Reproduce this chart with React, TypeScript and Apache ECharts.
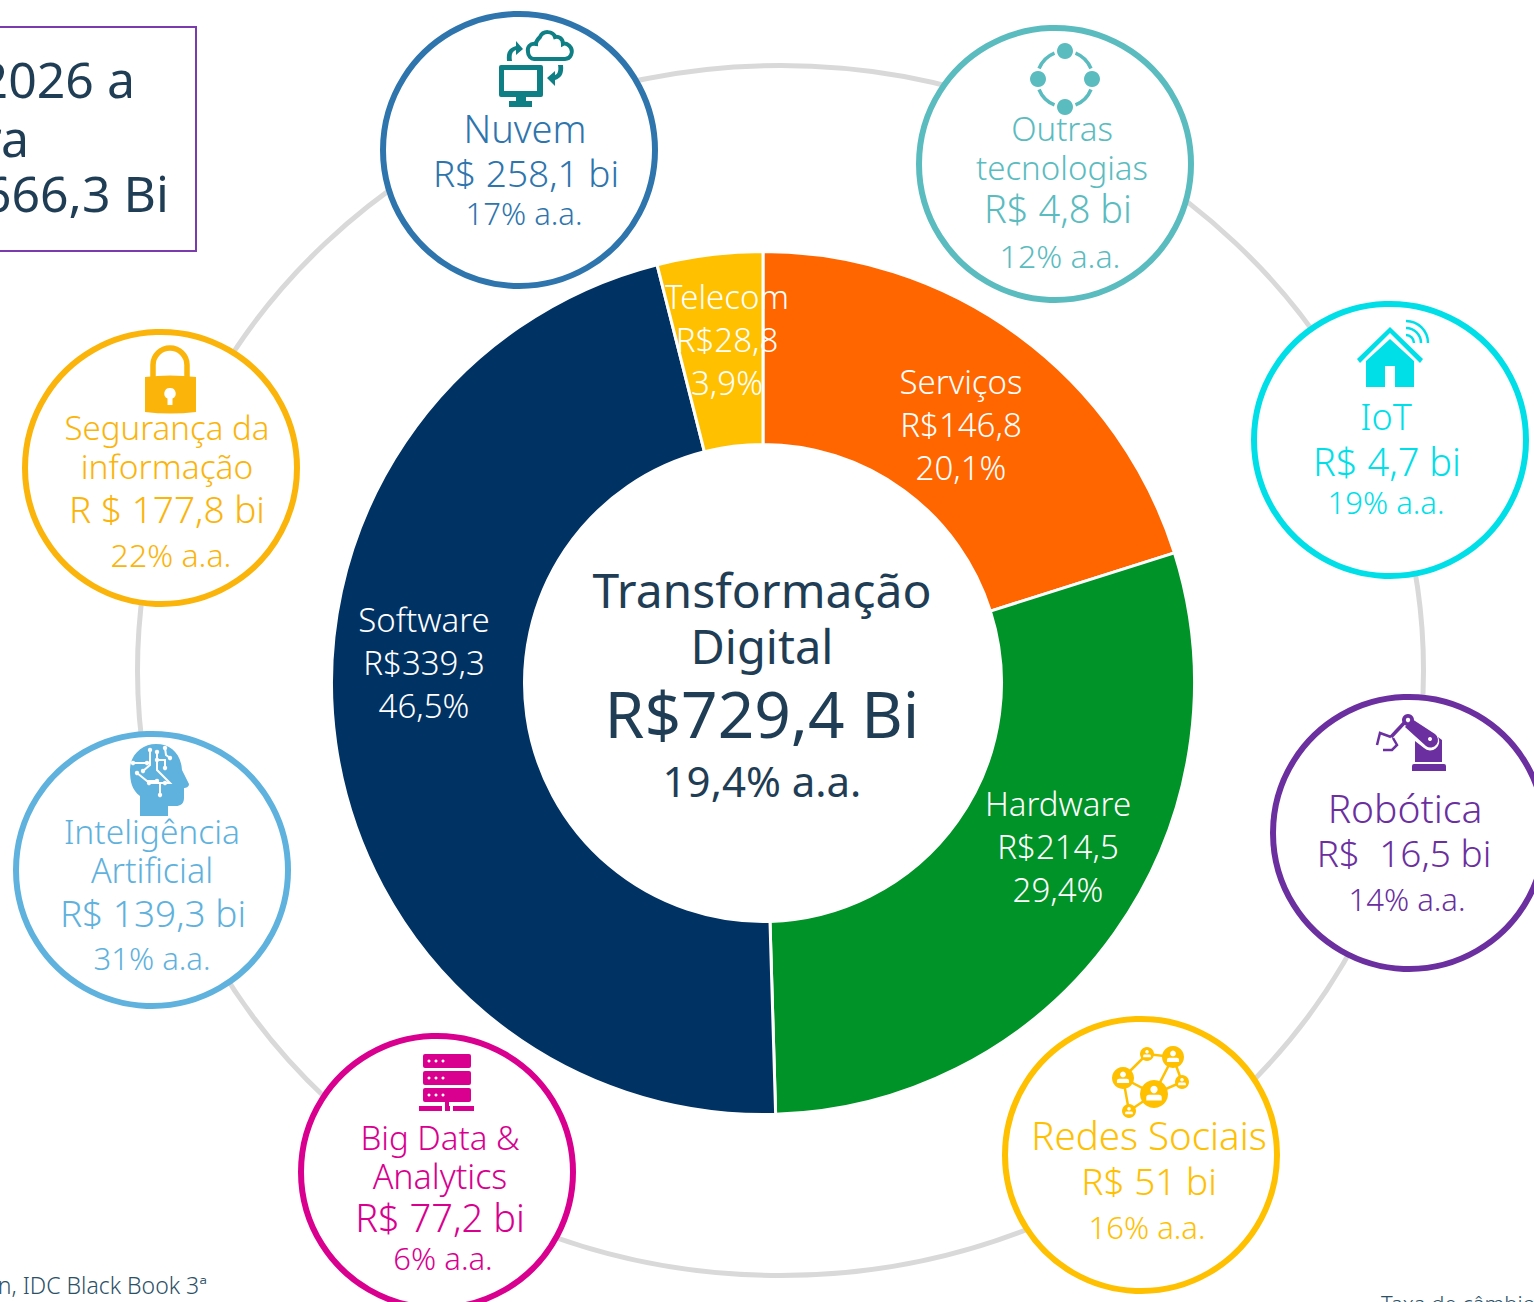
import React, { useEffect, useRef } from "react";
import * as echarts from "echarts";

// ---- Donut data -----
const segmentNames = ["Serviços", "Hardware", "Software", "Telecom"];
const segmentValues = [146.8, 214.5, 339.3, 28.8];
const segmentShares = ["20,1%", "29,4%", "46,5%", "3,9%"];
const segmentColors = ["#ff6600", "#009327", "#003264", "#ffc000"];
const segmentLabelPos = [[961, 424], [1058, 846], [424, 662], [727, 339]];

// ---- Centre text ----
const centerLines = [
  { t: "Transformação", y: 589, s: 48 },
  { t: "Digital", y: 646, s: 47 },
  { t: "R$729,4 Bi", y: 713, s: 64 },
  { t: "19,4% a.a.", y: 780, s: 42 },
];

// ---- Satellite circles ----
const bubbles = [
  { c: [519, 150], col: "#2e75ad", lines: [["Nuvem", 525, 128, 38], ["R$ 258,1 bi", 526, 172, 37], ["17% a.a.", 524, 213, 31]] },
  { c: [1055, 164], col: "#5bbcc0", lines: [["Outras", 1062, 128, 33], ["tecnologias", 1062, 167, 33], ["R$ 4,8 bi", 1058, 208, 38], ["12% a.a.", 1060, 255, 32]] },
  { c: [1390, 440], col: "#00dfe8", lines: [["IoT", 1386, 416, 36], ["R$ 4,7 bi", 1387, 461, 38], ["19% a.a.", 1386, 502, 31]] },
  { c: [1409, 833], col: "#6b2fa0", lines: [["Robótica", 1405, 807, 39], ["R$  16,5 bi", 1404, 852, 37], ["14% a.a.", 1407, 899, 31]] },
  { c: [1141, 1155], col: "#ffc000", lines: [["Redes Sociais", 1149, 1135, 38.5], ["R$ 51 bi", 1149, 1180, 37], ["16% a.a.", 1147, 1227, 31]] },
  { c: [437, 1172], col: "#d90090", lines: [["Big Data &", 440, 1137, 33], ["Analytics", 440, 1176, 34], ["R$ 77,2 bi", 440, 1217, 38], ["6% a.a.", 443, 1258, 31]] },
  { c: [152, 870], col: "#5fb2dd", lines: [["Inteligência", 152, 831, 33.5], ["Artificial", 152, 870, 34], ["R$ 139,3 bi", 153, 912, 37], ["31% a.a.", 152, 958, 31]] },
  { c: [161, 468], col: "#fbb40a", lines: [["Segurança da", 167, 427, 33], ["informação", 167, 466, 33.5], ["R $ 177,8 bi", 167, 508, 37], ["22% a.a.", 171, 554, 32]] },
];

const boxLines: [string, number, number][] = [["2026 a", 135, 79], ["ra", 29, 138], ["666,3 Bi", 169, 193]];

const FONT = "'Noto Sans', sans-serif";
const LIGHT = 300;
const REGULAR = 400;
const INK = "#1f3d54";

// ---- Icons (SVG paths) ----
const icons: Record<string, string> = {
  monitor:
    "M501 65 H541 Q543 65 543 67 V95 Q543 97 541 97 H526 V101 H532 V107 H509 V101 H516 V97 H501 Q499 97 499 95 V67 Q499 65 501 65 Z M504 70 V91 H537 V70 Z",
  cloud:
    "M534 59 H565 C571 59 573 52 571 48 C569 44 565 43 563 44 C563 38 558 36 555 37 C553 31 543 30 540 37 C537 40 536 42 536 44 C530 43 527 47 528 52 C528 56 531 59 534 59 Z",
  arrowA: "M507 61 C506 52 509 48 516 46 L516 41 L523 49 L516 55 L516 50 C512 51 511 55 512 61 Z",
  arrowB: "M558 65 H563 C564 74 561 78 555 80 L555 86 L547 78 L555 71 L555 75 C558 74 559 70 558 65 Z",
  house:
    "M1390 339 L1414 361 V387 H1395 V366 H1385 V387 H1366 V361 Z M1390 327 L1423 359 L1420 363 L1390 333 L1360 363 L1357 359 Z",
  lock:
    "M145 377 Q170 374 196 377 V412 Q170 415 145 412 Z M170 388 A5.5 5.5 0 0 0 167.5 398.5 V405 H172.5 V398.5 A5.5 5.5 0 0 0 170 388 Z",
  shackle: "M153 378 V365 A17 17 0 0 1 187 365 V378",
  head:
    "M140 816 V796 C132 790 130 782 130 770 C130 754 143 744 156 744 C171 744 181 754 182 770 L189 784 C189 787 186 788 184 788 V798 C184 804 180 806 176 806 H168 V816 Z",
  robotBody:
    "M1415 741 L1424 748 A9 9 0 0 0 1438 737 L1442 740 V762 H1415 Z M1412 766 Q1412 764 1414 764 H1444 Q1446 764 1446 766 V771 H1412 Z",
  robotArm: "M1412 719 L1435 734 A7 7 0 0 1 1426 746 L1405 727 Z",
};
Object.entries(icons).forEach(([k, d]) => {
  echarts.graphic.registerShape("ic_" + k, echarts.graphic.extendPath(d, {}));
});

const path = (k: string, style: any) => ({ type: "ic_" + k, x: 0, y: 0, style });
const circle = (cx: number, cy: number, r: number, fill: string) => ({ type: "circle", shape: { cx, cy, r }, style: { fill } });
const pline = (points: number[][], stroke: string, lineWidth: number) => ({
  type: "polyline",
  shape: { points },
  style: { stroke, lineWidth, fill: "none" },
});
const arc = (cx: number, cy: number, r: number, a0: number, a1: number, stroke: string, lineWidth: number) => ({
  type: "arc",
  shape: { cx, cy, r, startAngle: (a0 * Math.PI) / 180, endAngle: (a1 * Math.PI) / 180 },
  style: { stroke, lineWidth, fill: "none" },
});
const person = (cx: number, cy: number, r: number, col: string) => [
  circle(cx, cy, r, col),
  circle(cx, cy - r * 0.32, r * 0.26, "#fff"),
  { type: "rect", shape: { x: cx - r * 0.55, y: cy + r * 0.06, width: r * 1.1, height: r * 0.4, r: [r * 0.2, r * 0.2, 0, 0] }, style: { fill: "#fff" } },
];

function iconElements(): any[] {
  const teal = "#0e7f85";
  const sea = "#5bbcc0";
  const cyan = "#00dfe8";
  const pur = "#6b2fa0";
  const yel = "#ffc000";
  const mag = "#d90090";
  const sky = "#5fb2dd";
  const amb = "#fbb40a";
  const out: any[] = [];
  // cloud
  out.push(path("monitor", { fill: teal }), path("cloud", { fill: "none", stroke: teal, lineWidth: 4 }), path("arrowA", { fill: teal }), path("arrowB", { fill: teal }));
  // other tech
  [[1065, 51], [1038, 79], [1092, 79], [1065, 107]].forEach(([x, y]) => out.push(circle(x, y, 8, sea)));
  [[22, 68], [112, 158], [202, 248], [292, 338]].forEach(([a, b]) => out.push(arc(1065, 79, 28, a, b, sea, 3.5)));
  // iot
  out.push(path("house", { fill: cyan }));
  [8, 15, 22].forEach((r) => out.push(arc(1406, 343, r, 270, 360, cyan, 2.5)));
  // robot
  out.push(path("robotBody", { fill: pur }), path("robotArm", { fill: pur }), circle(1408, 720, 6, pur), circle(1408, 720, 2.2, "#fff"), circle(1430, 739, 2, "#fff"));
  out.push(pline([[1405, 722], [1391, 737]], pur, 3.5));
  out.push(pline([[1391, 737], [1380, 733], [1377, 745]], pur, 2.5));
  out.push(pline([[1393, 738], [1397, 745], [1392, 750], [1383, 750]], pur, 2.5));
  // social
  out.push(pline([[1123, 1078], [1147, 1054], [1173, 1057], [1154, 1094], [1123, 1078], [1129, 1111], [1154, 1094], [1182, 1082], [1173, 1057]], yel, 2.5));
  out.push(...person(1154, 1094, 14, yel), ...person(1123, 1078, 11, yel), ...person(1173, 1057, 11, yel), ...person(1147, 1054, 7, yel), ...person(1182, 1082, 7, yel), ...person(1129, 1111, 7, yel));
  // big data
  [1054, 1071, 1088].forEach((y) => {
    out.push({ type: "rect", shape: { x: 423, y, width: 48, height: 14, r: 2 }, style: { fill: mag } });
    [429, 436, 443].forEach((x) => out.push(circle(x, y + 7, 1.5, "#fff")));
  });
  out.push({ type: "rect", shape: { x: 445, y: 1102, width: 4, height: 6 }, style: { fill: mag } });
  [[419, 23], [445, 5], [453, 21]].forEach(([x, width]) => out.push({ type: "rect", shape: { x, y: 1106, width, height: 5 }, style: { fill: mag } }));
  // AI head
  out.push(path("head", { fill: sky }));
  const traces = [
    [[150, 750], [150, 765], [143, 771]],
    [[133, 763], [147, 763]],
    [[157, 752], [157, 770], [170, 783], [149, 783]],
    [[157, 760], [165, 760], [165, 768]],
    [[165, 783], [160, 783], [160, 795]],
    [[137, 773], [147, 781], [157, 781]],
    [[165, 748], [166, 755], [170, 758]],
  ];
  traces.forEach((p) => {
    out.push(pline(p, "#fff", 2));
    const e = p[p.length - 1];
    out.push(circle(p[0][0], p[0][1], 2.2, "#fff"), circle(e[0], e[1], 2.2, "#fff"));
  });
  // lock
  out.push(path("lock", { fill: amb }), path("shackle", { fill: "none", stroke: amb, lineWidth: 5.5 }));
  return out;
}

function buildGraphic(): any[] {
  const els: any[] = [];
  // connecting ring
  els.push({ type: "ellipse", shape: { cx: 780.5, cy: 670.5, rx: 643, ry: 605 }, style: { fill: "none", stroke: "#d9d9d9", lineWidth: 5 } });
  // bubbles
  bubbles.forEach((b) => {
    els.push({ type: "circle", shape: { cx: b.c[0], cy: b.c[1], r: 136 }, style: { fill: "#fff", stroke: b.col, lineWidth: 6 } });
    b.lines.forEach((l: any) =>
      els.push({
        type: "text",
        style: { text: l[0], x: l[1], y: l[2], fill: b.col, fontSize: l[3], fontFamily: FONT, fontWeight: LIGHT, align: "center", verticalAlign: "middle" },
      })
    );
  });
  els.push(...iconElements());
  // centre text
  centerLines.forEach((l) =>
    els.push({ type: "text", style: { text: l.t, x: 762, y: l.y, fill: INK, fontSize: l.s, fontFamily: FONT, fontWeight: REGULAR, align: "center", verticalAlign: "middle" } })
  );
  // top-left box
  els.push({ type: "rect", shape: { x: -6, y: 27, width: 202, height: 224 }, style: { fill: "#fff", stroke: "#7a3cac", lineWidth: 2 } });
  boxLines.forEach(([t, x, y]) =>
    els.push({ type: "text", style: { text: t, x, y, fill: INK, fontSize: 50, fontFamily: FONT, fontWeight: REGULAR, align: "right", verticalAlign: "middle" } })
  );
  // footnotes
  els.push({ type: "text", style: { text: "n, IDC Black Book 3ª", x: 207, y: 1285, fill: "#2c5167", fontSize: 23, fontFamily: FONT, fontWeight: LIGHT, align: "right", verticalAlign: "middle" } });
  els.push({ type: "text", style: { text: "Taxa de câmbio", x: 1381, y: 1303, fill: "#2c5167", fontSize: 22, fontFamily: FONT, fontWeight: LIGHT, align: "left", verticalAlign: "middle" } });
  return els;
}

export default function App() {
  const ref = useRef<HTMLDivElement>(null);
  useEffect(() => {
    document.body.style.margin = "0";
    const chart = echarts.init(ref.current!, undefined, { renderer: "svg" });
    chart.setOption({
      animation: false,
      backgroundColor: "#ffffff",
      graphic: { elements: buildGraphic() },
      series: [
        {
          type: "pie",
          center: [763, 683],
          radius: [238.5, 431.5],
          startAngle: 90,
          clockwise: true,
          silent: true,
          itemStyle: { borderColor: "#ffffff", borderWidth: 3 },
          labelLine: { show: false },
          label: {
            show: true,
            position: "inside",
            color: "#ffffff",
            fontFamily: FONT,
            fontWeight: LIGHT,
            fontSize: 33,
            lineHeight: 43,
            align: "center",
            verticalAlign: "middle",
            formatter: (p: any) =>
              `${p.name}\nR$${String(p.value).replace(".", ",")}\n${segmentShares[p.dataIndex]}`,
          },
          labelLayout: (p: any) => ({
            x: segmentLabelPos[p.dataIndex][0],
            y: segmentLabelPos[p.dataIndex][1],
            align: "center",
            verticalAlign: "middle",
            hideOverlap: false,
          }),
          data: segmentNames.map((name, i) => ({
            name,
            value: segmentValues[i],
            itemStyle: { color: segmentColors[i] },
          })),
        },
      ],
    });
    return () => chart.dispose();
  }, []);
  return <div ref={ref} style={{ width: 1534, height: 1302, position: "absolute", left: 0, top: 0, overflow: "hidden" }} />;
}
